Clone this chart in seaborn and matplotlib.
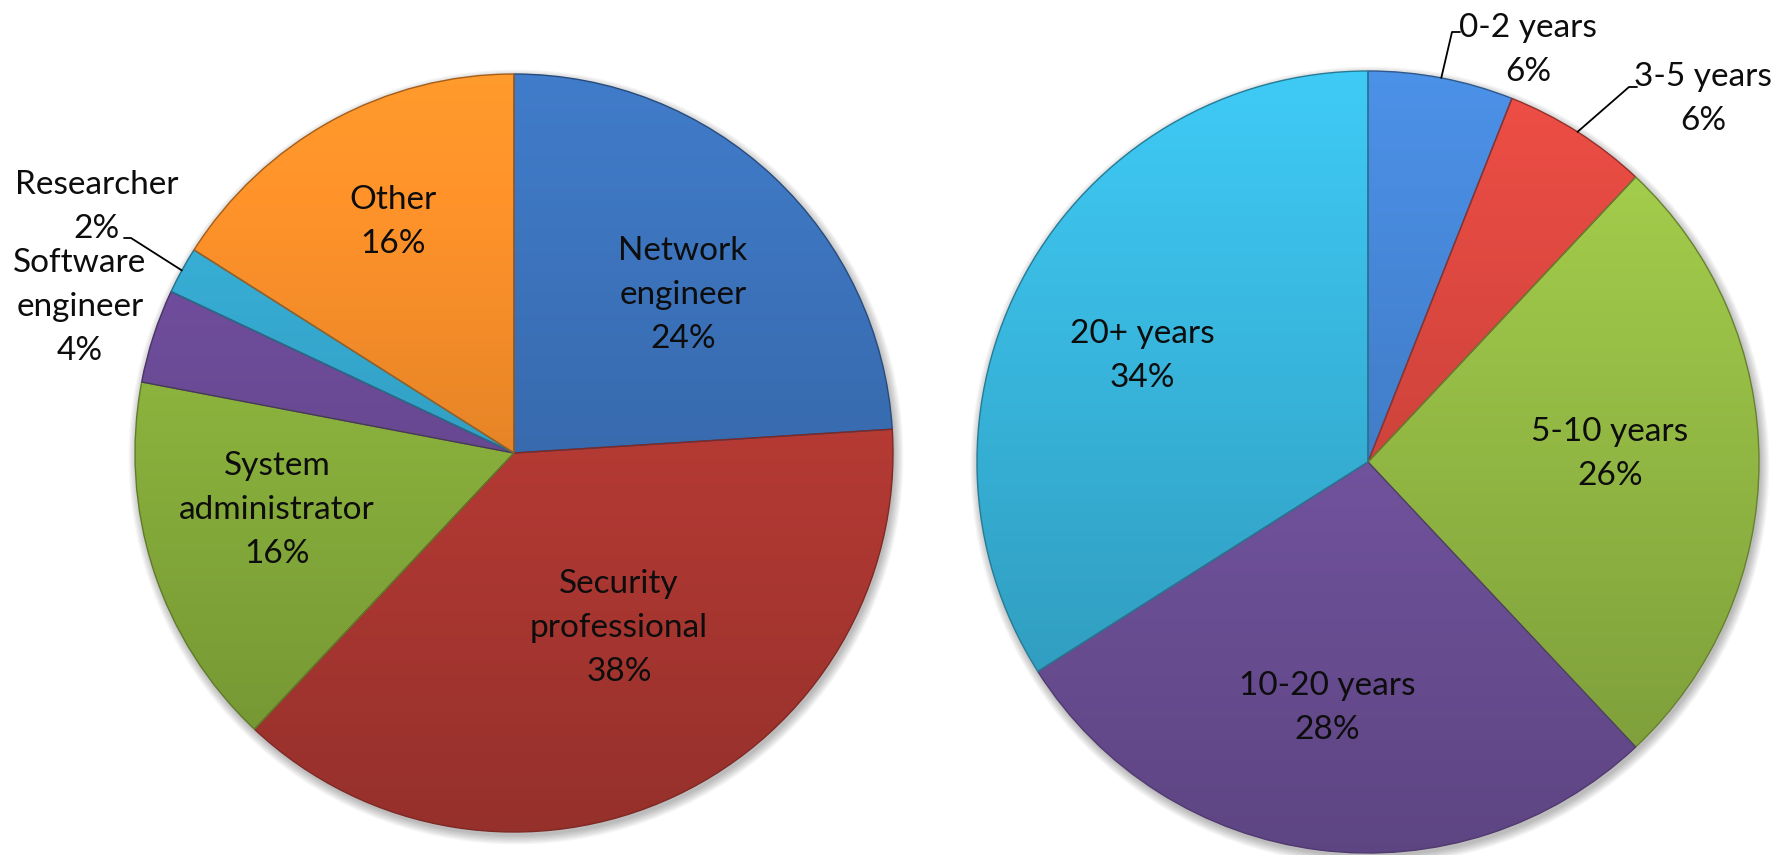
import numpy as np
import matplotlib
matplotlib.use("Agg")
import matplotlib.pyplot as plt
import matplotlib.colors as mcolors
from matplotlib.patches import Circle
import seaborn as sns

# Survey respondents by job role
roles = ["Network\nengineer", "Security\nprofessional", "System\nadministrator",
         "Software\nengineer", "Researcher", "Other"]
role_shares = [24, 38, 16, 4, 2, 16]
role_colors = ["#3a6fb5", "#bb3c36", "#8db53e", "#6c4b98", "#35a6cc", "#f08a28"]

# Survey respondents by years of experience
experience = ["0-2 years", "3-5 years", "5-10 years", "10-20 years", "20+ years"]
experience_shares = [6, 6, 26, 28, 34]
experience_colors = ["#4482d0", "#d6463e", "#97be46", "#7556a3", "#38b5dc"]

W, H = 1790, 855

sns.set_theme(style="white")
plt.rcParams["font.family"] = ["Lato", "DejaVu Sans"]

fig = plt.figure(figsize=(W / 100, H / 100), dpi=100)
ax = fig.add_axes([0, 0, 1, 1])

FONT = 24
LINESPACING = 1.6


def flip(y):
    return H - y


def shade(color, f):
    rgb = np.array(mcolors.to_rgb(color))
    return np.clip(rgb * f, 0, 1)


def draw_pie(shares, colors, cx, cy, r):
    center = (cx, flip(cy))
    # soft drop shadow
    for k in range(8):
        ax.add_patch(Circle((cx + 2, flip(cy) - 4), r + k * 1.2,
                            facecolor="black", edgecolor="none",
                            alpha=0.035, zorder=0.5))
    wedges, _ = ax.pie(shares, colors=colors, startangle=90, counterclock=False,
                       center=center, radius=r, frame=True,
                       wedgeprops=dict(linewidth=1.0))
    for w, c in zip(wedges, colors):
        grad = np.linspace(1.12, 0.80, 256)
        img = np.array([shade(c, f) for f in grad])[:, None, :]
        im = ax.imshow(img, extent=(cx - r, cx + r, flip(cy) - r, flip(cy) + r),
                       origin="upper", aspect="auto", interpolation="bilinear",
                       zorder=2)
        im.set_clip_path(w)
        w.set_facecolor("none")
        w.set_edgecolor(shade(c, 0.68))
        w.set_zorder(3)
    return wedges


def edge_point(shares, i, cx, cy, r):
    total = float(sum(shares))
    mid = (sum(shares[:i]) + shares[i] / 2.0) / total * 2 * np.pi
    return cx + r * np.sin(mid), flip(cy) + r * np.cos(mid)


def label(text, value, x, y):
    ax.text(x, flip(y), f"{text}\n{value}%", ha="center", va="center",
            fontsize=FONT, color="#0d0d0d", linespacing=LINESPACING, zorder=5)


# left pie: job roles
L_CX, L_CY, L_R = 514, 453, 379
draw_pie(role_shares, role_colors, L_CX, L_CY, L_R)
role_label_pos = [(683, 295), (619, 628), (277, 510), (80, 307), (97, 207), (393, 222)]
for name, v, (x, y) in zip(roles, role_shares, role_label_pos):
    label(name, v, x, y)

# leader for the small researcher slice
ex, ey = edge_point(role_shares, 4, L_CX, L_CY, L_R)
ax.plot([124, 131, ex], [flip(238), flip(238), ey], color="black", lw=1.3, zorder=6)

# right pie: experience
R_CX, R_CY, R_R = 1368, 462, 391
draw_pie(experience_shares, experience_colors, R_CX, R_CY, R_R)
exp_label_pos = [(1528, 50), (1703, 99), (1610, 454), (1327, 708), (1142, 356)]
for name, v, (x, y) in zip(experience, experience_shares, exp_label_pos):
    label(name, v, x, y)

ex, ey = edge_point(experience_shares, 0, R_CX, R_CY, R_R)
ax.plot([1460, 1452, ex], [flip(32), flip(32), ey], color="black", lw=1.3, zorder=6)
ex, ey = edge_point(experience_shares, 1, R_CX, R_CY, R_R)
ax.plot([1637, 1629, ex], [flip(87), flip(87), ey], color="black", lw=1.3, zorder=6)

ax.set_xlim(0, W)
ax.set_ylim(0, H)
ax.set_aspect("auto")
ax.axis("off")

fig.savefig("out.png", dpi=100, facecolor="white")
